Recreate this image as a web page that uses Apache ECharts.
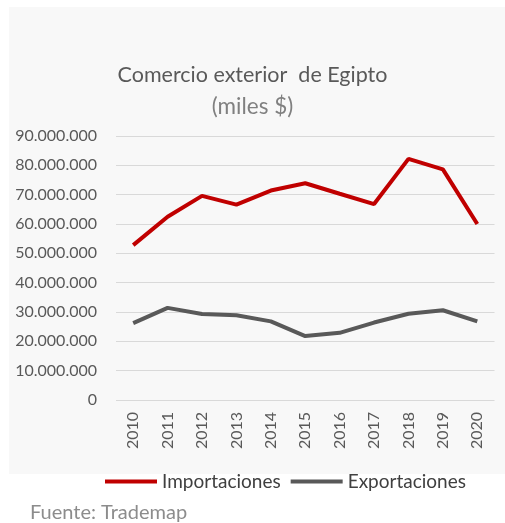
<!DOCTYPE html>
<html>
<head>
<meta charset="utf-8">
<script src="https://cdn.jsdelivr.net/npm/echarts@6/dist/echarts.min.js"></script>
<style>
html,body{margin:0;padding:0;background:#fff;}
#c{width:505px;height:523px;}
</style>
</head>
<body>
<div id="c"></div>
<script>
const years = ['2010','2011','2012','2013','2014','2015','2016','2017','2018','2019','2020'];
const importaciones = [52800000, 62500000, 69600000, 66600000, 71400000, 73900000, 70300000, 66800000, 82200000, 78600000, 60000000];
const exportaciones = [26200000, 31400000, 29300000, 28900000, 26800000, 21800000, 22900000, 26400000, 29400000, 30600000, 26800000];
const titleText = 'Comercio exterior  de Egipto';
const subtitleText = '(miles $)';
const sourceText = 'Fuente: Trademap';
const FONT = 'Lato';

function fmt(v){
  return String(Math.round(v)).replace(/\B(?=(\d{3})+(?!\d))/g, '.');
}

const chart = echarts.init(document.getElementById('c'), null, {renderer:'canvas'});
chart.setOption({
  animation:false,
  backgroundColor:'#ffffff',
  graphic:[
    {type:'rect', z:-10, shape:{x:9, y:7, width:496, height:467}, style:{fill:'#f8f8f8'}},
    {type:'text', left:30, top:503, style:{text:sourceText, font:'20px '+FONT, fill:'#8c8c8c'}}
  ],
  title:{
    text:titleText,
    subtext:subtitleText,
    left:'center',
    top:59,
    itemGap:9,
    textStyle:{fontFamily:FONT, fontSize:21.5, fontWeight:'normal', color:'#595959'},
    subtextStyle:{fontFamily:FONT, fontSize:22.5, color:'#808080'}
  },
  legend:{
    left:100, top:467,
    itemWidth:52, itemHeight:4, itemGap:10,
    icon:'rect',
    textStyle:{fontFamily:FONT, fontSize:19, color:'#404040'},
    data:['Importaciones','Exportaciones']
  },
  grid:{left:116, right:10.5, top:136, bottom:123, containLabel:false},
  xAxis:{
    type:'category',
    data:years,
    boundaryGap:true,
    axisLine:{show:false},
    axisTick:{show:false},
    axisLabel:{rotate:90, margin:12, fontFamily:FONT, fontSize:16, color:'#595959'}
  },
  yAxis:{
    type:'value',
    min:0, max:90000000, interval:10000000,
    axisLine:{show:false},
    axisTick:{show:false},
    splitLine:{lineStyle:{color:'#d9d9d9', width:1}},
    axisLabel:{margin:19, fontFamily:FONT, fontSize:16, color:'#595959', formatter:fmt}
  },
  series:[
    {name:'Importaciones', type:'line', data:importaciones, symbol:'none',
     lineStyle:{color:'#c00000', width:4}, itemStyle:{color:'#c00000'}},
    {name:'Exportaciones', type:'line', data:exportaciones, symbol:'none',
     lineStyle:{color:'#595959', width:4}, itemStyle:{color:'#595959'}}
  ]
});
</script>
</body>
</html>
